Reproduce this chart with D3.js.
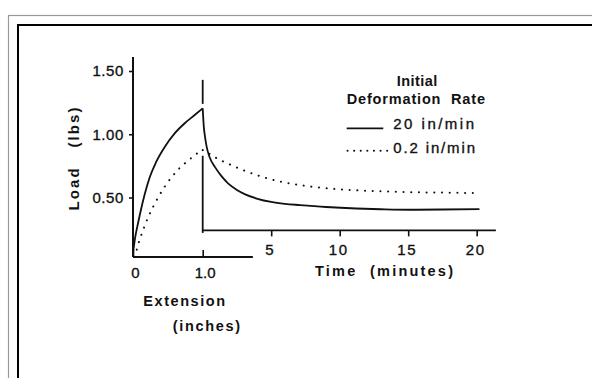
<!DOCTYPE html>
<html>
  <head>
    <meta charset="UTF-8">
    <title>Load relaxation</title>
    <script src="https://d3js.org/d3.v7.min.js"></script>
    <style>
      body { margin: 0; background: #fff; }
      text { font-family: "Liberation Sans", Arial, sans-serif; fill: #111; }
      .lbl { font-weight: bold; font-size: 14.5px; }
      .tick text, .num { font-size: 15px; stroke: #111; stroke-width: 0.35px; }
    </style>
  </head>
  <body>
    <svg id="chart" width="592" height="378"></svg>
    <script>
      // loading phase: load (lbs) vs extension (inches)
      const extFast = [0.005, 0.033, 0.072, 0.119, 0.168, 0.24, 0.334, 0.455, 0.598, 0.742, 0.885, 1.0];
      const loadExtFast = [0.08, 0.19, 0.296, 0.415, 0.525, 0.66, 0.783, 0.9, 1.007, 1.087, 1.152, 1.205];
      const extSlow = [0.02, 0.05, 0.08, 0.11, 0.16, 0.215, 0.287, 0.36, 0.46, 0.54, 0.646, 0.81, 0.91, 1.0];
      const loadExtSlow = [0.03, 0.08, 0.14, 0.19, 0.265, 0.34, 0.425, 0.5, 0.59, 0.65, 0.72, 0.8, 0.845, 0.875];

      // relaxation phase: load (lbs) vs time (minutes)
      const timeFast = [0, 0.08, 0.17, 0.29, 0.5, 0.9, 1.4, 1.87, 2.5, 3.1, 4, 5, 6, 7.1, 9, 11.2, 13, 15, 17.5, 20.2];
      const loadTimeFast = [1.205, 1.06, 0.98, 0.9, 0.82, 0.74, 0.665, 0.61, 0.56, 0.525, 0.49, 0.465, 0.45, 0.44, 0.425, 0.413, 0.407, 0.403, 0.405, 0.408];
      const timeSlow = [0, 0.5, 1.2, 1.9, 3.1, 4.3, 5.5, 6.7, 8, 10, 12, 15, 18, 20.1];
      const loadTimeSlow = [0.875, 0.845, 0.8, 0.765, 0.71, 0.665, 0.63, 0.605, 0.585, 0.565, 0.553, 0.543, 0.538, 0.535];

      const loadTicks = [0.5, 1.0, 1.5];
      const timeTicks = [5, 10, 15, 20];
      const extTicks = [0, 1.0];
      const legendLabels = ["20 in/min", "0.2 in/min"];

      const svg = d3.select("#chart");

      // frame
      svg.append("rect").attr("x", 8.5).attr("y", 15.5).attr("width", 700).attr("height", 500)
        .attr("fill", "none").attr("stroke", "#999").attr("stroke-width", 1.2);
      svg.append("rect").attr("x", 18).attr("y", 25).attr("width", 700).attr("height", 500)
        .attr("fill", "none").attr("stroke", "#000").attr("stroke-width", 2);

      const y = d3.scaleLinear().domain([0.5, 1.5]).range([197.5, 71]);
      const xExt = d3.scaleLinear().domain([0, 1]).range([133, 202.7]);
      const xTime = d3.scaleLinear().domain([0, 20]).range([202.7, 476.7]);

      const timeAxisLoad = 0.24;
      const extAxisLoad = 0.03;

      const ink = "#111";

      // y axis
      const gy = svg.append("g").attr("transform", `translate(${xExt(0)},0)`)
        .call(d3.axisLeft(y).tickValues(loadTicks).tickSize(4).tickPadding(5).tickFormat(d3.format(".2f")));
      gy.select(".domain").remove();
      gy.selectAll(".tick line").attr("stroke", ink).attr("stroke-width", 1.6);
      gy.selectAll(".tick text").attr("letter-spacing", 0.6);
      svg.append("line").attr("x1", xExt(0)).attr("x2", xExt(0))
        .attr("y1", y(1.61)).attr("y2", y(extAxisLoad))
        .attr("stroke", ink).attr("stroke-width", 2);

      // extension axis
      const gx = svg.append("g").attr("transform", `translate(0,${y(extAxisLoad)})`)
        .call(d3.axisBottom(xExt).tickValues(extTicks).tickSize(-7).tickFormat((d) => d === 0 ? "0" : d3.format(".1f")(d)));
      gx.select(".domain").remove();
      gx.selectAll(".tick line").attr("stroke", ink).attr("stroke-width", 1.6);
      gx.selectAll(".tick text").attr("y", 15.5).attr("dy", "0.35em").attr("dx", 2);
      svg.append("line").attr("x1", xExt(0)).attr("x2", xExt(1.72))
        .attr("y1", y(extAxisLoad)).attr("y2", y(extAxisLoad))
        .attr("stroke", ink).attr("stroke-width", 2);

      // time axis
      const gt = svg.append("g").attr("transform", `translate(0,${y(timeAxisLoad)})`)
        .call(d3.axisBottom(xTime).tickValues(timeTicks).tickSize(6));
      gt.select(".domain").remove();
      gt.selectAll(".tick line").attr("stroke", ink).attr("stroke-width", 1.6);
      gt.selectAll(".tick text").attr("y", 19).attr("dy", "0.35em").attr("dx", -1.5).attr("letter-spacing", 1.5);
      svg.append("line").attr("x1", xTime(0)).attr("x2", xTime(21.4))
        .attr("y1", y(timeAxisLoad)).attr("y2", y(timeAxisLoad))
        .attr("stroke", ink).attr("stroke-width", 1.8);

      // vertical marker at the end of the extension
      const markerSegs = [[1.43, 1.24], [0.83, timeAxisLoad - 0.02]];
      markerSegs.forEach(([a, b]) => {
        svg.append("line").attr("x1", xExt(1)).attr("x2", xExt(1))
          .attr("y1", y(a)).attr("y2", y(b))
          .attr("stroke", ink).attr("stroke-width", 1.8);
      });

      // curves
      const lineExt = d3.line().x((d) => xExt(d[0])).y((d) => y(d[1])).curve(d3.curveMonotoneX);
      const lineTime = d3.line().x((d) => xTime(d[0])).y((d) => y(d[1])).curve(d3.curveMonotoneX);

      const solid = { stroke: ink, "stroke-width": 1.8, fill: "none" };
      const dotted = { stroke: ink, "stroke-width": 2, fill: "none", "stroke-dasharray": "0.1 7.6", "stroke-linecap": "round" };
      const applyStyle = (sel, st) => { Object.entries(st).forEach(([k, v]) => sel.attr(k, v)); return sel; };

      applyStyle(svg.append("path").attr("d", lineExt(d3.zip(extFast, loadExtFast))), solid);
      applyStyle(svg.append("path").attr("d", lineTime(d3.zip(timeFast, loadTimeFast))), solid);
      applyStyle(svg.append("path").attr("d", lineExt(d3.zip(extSlow, loadExtSlow))), dotted);
      applyStyle(svg.append("path").attr("d", lineTime(d3.zip(timeSlow, loadTimeSlow))), dotted);

      // labels
      const label = (txt, x, yy, len, cls) => svg.append("text").attr("class", cls || "lbl")
        .attr("x", x).attr("y", yy).attr("dy", "0.35em")
        .attr("textLength", len).attr("lengthAdjust", "spacing")
        .text(txt);

      svg.append("text").attr("class", "lbl")
        .attr("transform", "translate(74,159) rotate(-90)")
        .attr("text-anchor", "middle").attr("dy", "0.35em")
        .attr("textLength", 103).attr("lengthAdjust", "spacing")
        .style("font-size", "15px")
        .text("Load\u00a0\u00a0\u00a0(lbs)");

      label("Time\u00a0\u00a0(minutes)", 315, 271, 138);
      label("Extension", 143.3, 301, 81.7);
      label("(inches)", 172.7, 326, 67.3);

      // legend
      label("Initial", 396.7, 81, 40.6);
      label("Deformation\u00a0\u00a0Rate", 346.7, 99, 138.3);
      label(legendLabels[0], 393.3, 123.3, 80.7, "num");
      label(legendLabels[1], 393.3, 147.3, 81.7, "num");
      applyStyle(svg.append("line").attr("x1", 346.7).attr("x2", 383.3).attr("y1", 128.3).attr("y2", 128.3), solid);
      applyStyle(svg.append("line").attr("x1", 347.5).attr("x2", 388).attr("y1", 150.7).attr("y2", 150.7),
        Object.assign({}, dotted, { "stroke-dasharray": "0.1 6.5" }));
    </script>
  </body>
</html>
